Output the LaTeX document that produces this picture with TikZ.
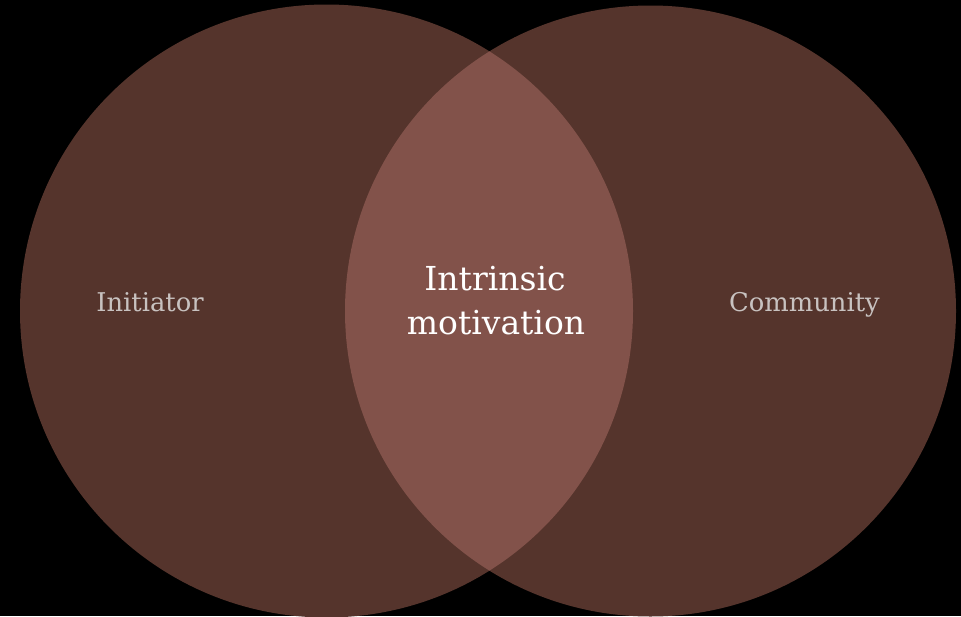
\documentclass[tikz,border=0pt]{standalone}
\usepackage{fontspec}
\setmainfont{DejaVu Serif}
\definecolor{bgc}{RGB}{0,0,0}
\definecolor{circc}{RGB}{85,52,44}
\definecolor{lensc}{RGB}{130,82,74}
\definecolor{labc}{RGB}{200,194,192}
\begin{document}
\begin{tikzpicture}[x=1pt,y=-1pt,
  setc/.style={fill=circc,draw=none},
  sidelab/.style={text=labc,font=\fontsize{25.8}{30}\selectfont,anchor=base},
  midlab/.style={text=white,font=\fontsize{33}{44}\selectfont,align=center,anchor=base}]
\useasboundingbox (0,0) rectangle (961,616);
\fill[bgc] (0,0) rectangle (961,616);
\path[setc] (326.5,311) circle (306.5);
\path[setc] (650.5,311) circle (305.5);
\begin{scope}
\clip (326.5,311) circle (306.5);
\fill[lensc] (650.5,311) circle (305.5);
\end{scope}
\node[sidelab] (ini) at (150,311) {Initiator};
\node[sidelab] (com) at (804.5,311) {Community};
\node[midlab] (intr) at (495,290) {Intrinsic};
\node[midlab] (mot) at (496,334) {motivation};
\end{tikzpicture}
\end{document}
